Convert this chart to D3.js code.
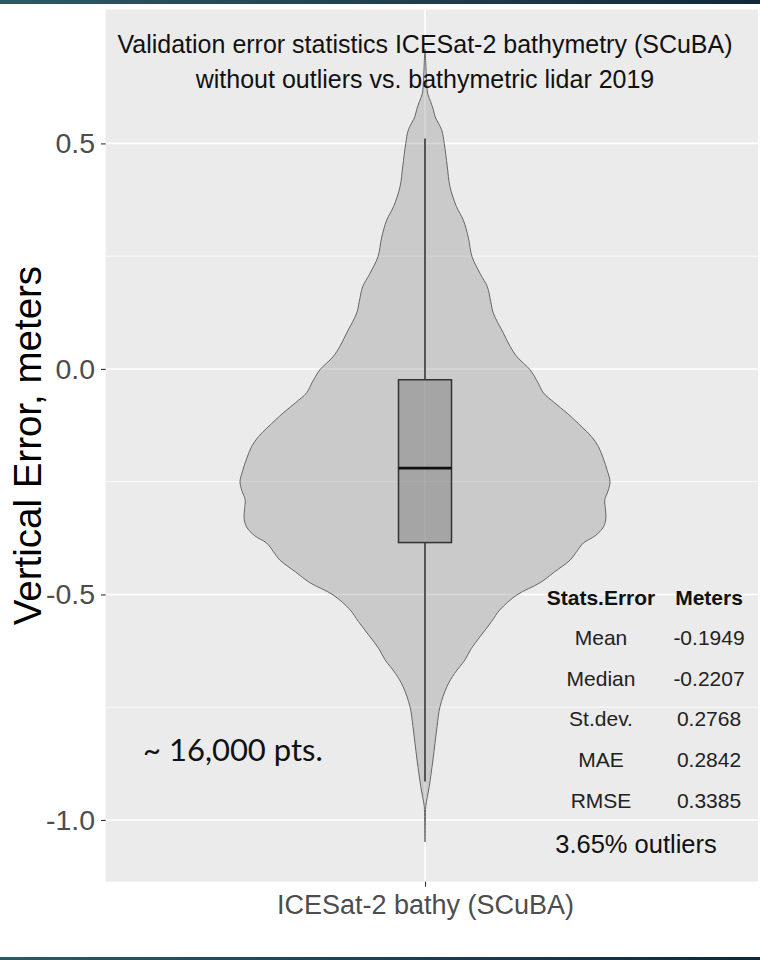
<!DOCTYPE html>
<html>
<head>
<meta charset="utf-8">
<script src="https://cdn.jsdelivr.net/npm/d3@7"></script>
<style>
  html, body { margin: 0; padding: 0; background: #ffffff; }
  svg { display: block; }
</style>
</head>
<body>
<svg id="chart" width="760" height="960"></svg>
<script>
// ---------------- data ----------------
const category = ["ICESat-2 bathy (SCuBA)"];
// violin outline: error value (m) and relative density (0..1)
const violinValues = [0.709, 0.68, 0.64, 0.61, 0.593, 0.575, 0.559, 0.530, 0.500, 0.45, 0.404, 0.36, 0.330, 0.29, 0.249, 0.21, 0.182, 0.15, 0.124, 0.080, 0.050, 0.027, -0.002, -0.03, -0.053, -0.075, -0.098, -0.129, -0.15, -0.172, -0.20, -0.225, -0.250, -0.27, -0.290, -0.31, -0.330, -0.350, -0.37, -0.386, -0.405, -0.424, -0.45, -0.474, -0.501, -0.534, -0.56, -0.594, -0.62, -0.645, -0.675, -0.704, -0.749, -0.793, -0.83, -0.867, -0.9, -0.926, -0.95, -0.970, -1.0, -1.049];
const violinDensity = [0, 0.004, 0.008, 0.015, 0.03, 0.045, 0.055, 0.09, 0.104, 0.12, 0.135, 0.17, 0.207, 0.235, 0.254, 0.30, 0.337, 0.355, 0.369, 0.423, 0.46, 0.497, 0.568, 0.61, 0.640, 0.70, 0.768, 0.849, 0.90, 0.937, 0.965, 0.985, 1.0, 0.99, 0.972, 0.975, 0.978, 0.965, 0.92, 0.856, 0.82, 0.784, 0.70, 0.622, 0.497, 0.405, 0.36, 0.297, 0.25, 0.216, 0.16, 0.119, 0.081, 0.065, 0.054, 0.043, 0.032, 0.023, 0.012, 0.004, 0.002, 0];
// box plot statistics
const boxLabels = ["whiskerLow", "q1", "median", "q3", "whiskerHigh"];
const boxValues = [-0.915, -0.385, -0.220, -0.024, 0.511];
// y axis ticks
const yMajorTicks = [0.5, 0.0, -0.5, -1.0];
const yTickLabels = ["0.5", "0.0", "-0.5", "-1.0"];
const yMinorTicks = [0.25, -0.25, -0.75];
// stats table
const statsHeader = ["Stats.Error", "Meters"];
const statsNames = ["Mean", "Median", "St.dev.", "MAE", "RMSE"];
const statsValues = ["-0.1949", "-0.2207", "0.2768", "0.2842", "0.3385"];
const outlierNote = "3.65% outliers";
const pointsNote = "~ 16,000 pts.";
const titleLines = ["Validation error statistics ICESat-2 bathymetry (SCuBA)", "without outliers vs. bathymetric lidar 2019"];
const yTitle = "Vertical Error, meters";

// ---------------- layout ----------------
const svg = d3.select("#chart");
const W = 760, H = 960;
const panel = { left: 105.7, right: 758, top: 9.5, bottom: 881.7 };
const FONT = "'Liberation Sans', Arimo, Arial, Helvetica, sans-serif";

// decorative frame bars (slide)
const defs = svg.append("defs");
const grad = defs.append("linearGradient").attr("id", "bar").attr("x1", "0%").attr("x2", "100%");
grad.append("stop").attr("offset", "0%").attr("stop-color", "#2d5868");
grad.append("stop").attr("offset", "100%").attr("stop-color", "#10293a");
svg.append("rect").attr("x", 0).attr("y", 0).attr("width", W).attr("height", 4).attr("fill", "url(#bar)");
svg.append("rect").attr("x", 0).attr("y", 957).attr("width", W).attr("height", 3).attr("fill", "url(#bar)");

// scales
const ext = d3.extent(violinValues);
const pad = (ext[1] - ext[0]) * 0.05;
const y = d3.scaleLinear().domain([ext[0] - pad, ext[1] + pad]).range([panel.bottom, panel.top]);
const x = d3.scalePoint().domain(category).range([panel.left, 2 * 425 - panel.left]);
const wScale = d3.scaleLinear().domain([0, 1]).range([0, 185]);
const boxHalf = 26.5;

// panel background
svg.append("rect")
  .attr("x", panel.left).attr("y", panel.top)
  .attr("width", panel.right - panel.left).attr("height", panel.bottom - panel.top)
  .attr("fill", "#EBEBEB");

// grid
const grid = svg.append("g");
grid.selectAll("line.minor").data(yMinorTicks).join("line")
  .attr("x1", panel.left).attr("x2", panel.right)
  .attr("y1", d => y(d)).attr("y2", d => y(d))
  .attr("stroke", "#ffffff").attr("stroke-width", 0.8);
grid.selectAll("line.major").data(yMajorTicks).join("line")
  .attr("x1", panel.left).attr("x2", panel.right)
  .attr("y1", d => y(d)).attr("y2", d => y(d))
  .attr("stroke", "#ffffff").attr("stroke-width", 1.6);
grid.selectAll("line.vmajor").data(category).join("line")
  .attr("x1", d => x(d)).attr("x2", d => x(d))
  .attr("y1", panel.top).attr("y2", panel.bottom)
  .attr("stroke", "#ffffff").attr("stroke-width", 1.6);

// violin
const cx = x(category[0]);
const violinData = violinValues.map((v, i) => ({ v, d: violinDensity[i] }));
const area = d3.area()
  .y(d => y(d.v))
  .x0(d => cx - wScale(d.d))
  .x1(d => cx + wScale(d.d))
  .curve(d3.curveCatmullRom);
svg.append("path").datum(violinData)
  .attr("d", area)
  .attr("fill", "#7f7f7f").attr("fill-opacity", 0.3)
  .attr("stroke", "#666666").attr("stroke-width", 1);

// box plot
const bs = {};
boxLabels.forEach((k, i) => bs[k] = boxValues[i]);
const boxG = svg.append("g");
boxG.append("line").attr("x1", cx).attr("x2", cx)
  .attr("y1", y(bs.q3)).attr("y2", y(bs.whiskerHigh))
  .attr("stroke", "#2a2a2a").attr("stroke-width", 1.5);
boxG.append("line").attr("x1", cx).attr("x2", cx)
  .attr("y1", y(bs.q1)).attr("y2", y(bs.whiskerLow))
  .attr("stroke", "#2a2a2a").attr("stroke-width", 1.5);
boxG.append("rect")
  .attr("x", cx - boxHalf).attr("y", y(bs.q3))
  .attr("width", boxHalf * 2).attr("height", y(bs.q1) - y(bs.q3))
  .attr("fill", "#7f7f7f").attr("fill-opacity", 0.5)
  .attr("stroke", "#333333").attr("stroke-width", 1.5);
boxG.append("line").attr("x1", cx - boxHalf).attr("x2", cx + boxHalf)
  .attr("y1", y(bs.median)).attr("y2", y(bs.median))
  .attr("stroke", "#111111").attr("stroke-width", 2.8);

// y axis
const yAxis = d3.axisLeft(y).tickValues(yMajorTicks)
  .tickFormat((d, i) => yTickLabels[i]).tickSize(4.7).tickPadding(6);
const yg = svg.append("g").attr("transform", `translate(${panel.left},0)`).call(yAxis);
yg.select(".domain").remove();
yg.selectAll(".tick line").attr("stroke", "#333333").attr("stroke-width", 1.1);
yg.selectAll(".tick text").attr("fill", "#4D4D4D").attr("font-size", 28.5).attr("font-family", FONT);

// x axis
const xAxis = d3.axisBottom(x).tickSize(5).tickPadding(8);
const xg = svg.append("g").attr("transform", `translate(0,${panel.bottom})`).call(xAxis);
xg.select(".domain").remove();
xg.selectAll(".tick line").attr("stroke", "#333333").attr("stroke-width", 1.1);
xg.selectAll(".tick text").attr("fill", "#4D4D4D").attr("font-size", 27).attr("font-family", FONT)
  .attr("dy", "0.71em");

// y title
svg.append("text")
  .attr("transform", `translate(41,${(panel.top + panel.bottom) / 2}) rotate(-90)`)
  .attr("text-anchor", "middle")
  .attr("font-family", FONT).attr("font-size", 38.5).attr("fill", "#000")
  .text(yTitle);

// title (inside panel)
svg.selectAll("text.title").data(titleLines).join("text")
  .attr("class", "title")
  .attr("x", 425).attr("y", (d, i) => 53 + i * 35)
  .attr("text-anchor", "middle")
  .attr("font-family", FONT).attr("font-size", 25).attr("fill", "#111")
  .text(d => d);

// points note
svg.append("text")
  .attr("x", 143).attr("y", 761)
  .attr("font-family", "Lato, 'Noto Sans', sans-serif").attr("font-size", 31).attr("font-weight", 400)
  .attr("fill", "#111")
  .text(pointsNote);

// stats table
const col1 = 601, col2 = 709, row0 = 604.5, rowStep = 40.6;
const tbl = svg.append("g").attr("font-family", FONT).attr("text-anchor", "middle");
tbl.selectAll("text.hdr").data(statsHeader).join("text")
  .attr("x", (d, i) => i === 0 ? col1 : col2).attr("y", row0)
  .attr("font-size", 21).attr("font-weight", "bold").attr("fill", "#111")
  .text(d => d);
tbl.selectAll("text.nm").data(statsNames).join("text")
  .attr("x", col1).attr("y", (d, i) => row0 + (i + 1) * rowStep)
  .attr("font-size", 21).attr("fill", "#222")
  .text(d => d);
tbl.selectAll("text.val").data(statsValues).join("text")
  .attr("x", col2).attr("y", (d, i) => row0 + (i + 1) * rowStep)
  .attr("font-size", 21).attr("fill", "#222")
  .text(d => d);
svg.append("text")
  .attr("x", 636).attr("y", 853)
  .attr("text-anchor", "middle")
  .attr("font-family", FONT).attr("font-size", 25.5).attr("fill", "#111")
  .text(outlierNote);
</script>
</body>
</html>
